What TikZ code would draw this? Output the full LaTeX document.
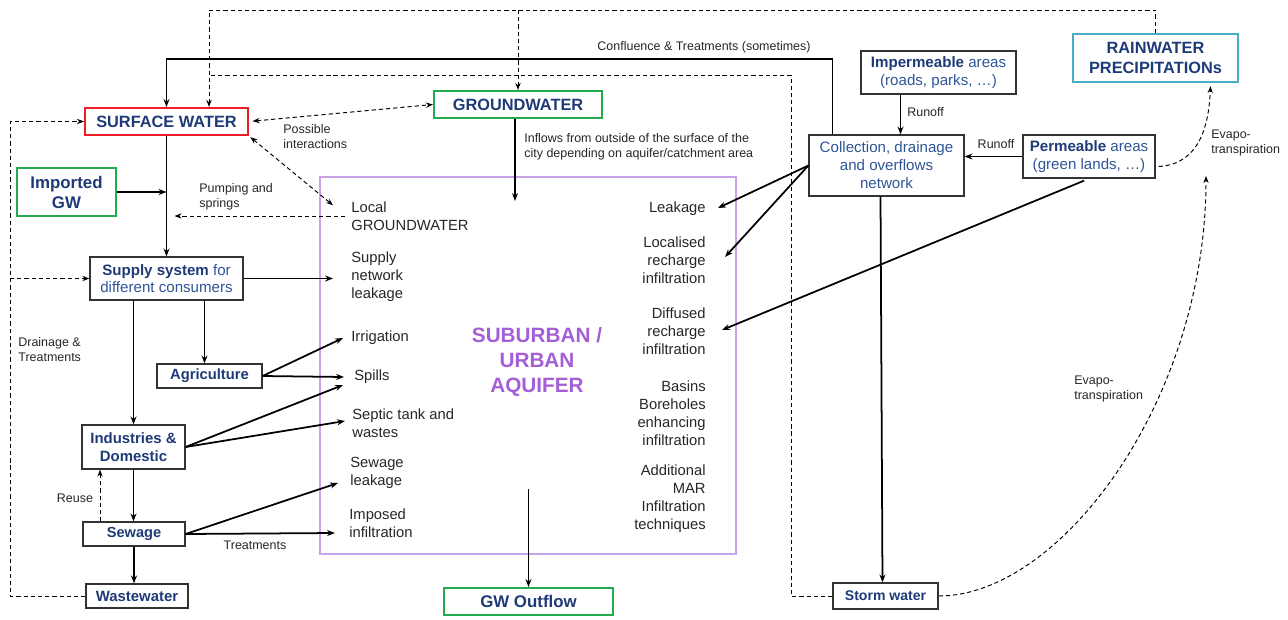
\documentclass[tikz,border=0pt]{standalone}
\usepackage{fontspec}
\setmainfont{Liberation Sans}
\usetikzlibrary{
  arrows.meta
  , calc
  , positioning
}
\definecolor{navy}{HTML}{1F3A78}
\definecolor{midblue}{HTML}{2F5597}
\definecolor{aqpurple}{HTML}{A45ED6}
\definecolor{aqline}{HTML}{C9A3E8}
\definecolor{swred}{HTML}{EE1C25}
\definecolor{gwgreen}{HTML}{22AA4E}
\definecolor{rainteal}{HTML}{4BACC6}
\newcommand{\fs}[2]{\fontsize{#1}{#2}\selectfont}

\begin{document}
\begin{tikzpicture}[x=0.02cm, y=-0.02cm,
    box/.style={draw=black!80, line width=0.7pt, text=navy, align=center, inner sep=0pt},
    title/.style={font=\bfseries\fs{9.3}{11.4}},
    arr/.style={-{Stealth[length=4.5pt,width=3.4pt]}, line width=1pt},
    dline/.style={line width=0.55pt, dash pattern=on 2.4pt off 1.7pt},
    darr/.style={dline, -{Stealth[length=4pt,width=3pt]}},
    lbl/.style={inner sep=0pt, font=\fs{8.4}{10.2}, text=black!85},
    note/.style={inner sep=0pt, font=\fs{7.1}{8.5}, text=black!85, align=left}]
  \useasboundingbox (0,0) rectangle (1288,619);

  % aquifer box
  \draw [aqline, line width=1pt] (320,177) rectangle (736,554);
  \node [text=aqpurple, align=center, font=\bfseries\fs{11.8}{14.5}] (aqtitle) at (537,362)
    {SUBURBAN /\\URBAN\\AQUIFER};

  % boxes
  \node [box, title, draw=swred, line width=1.2pt,
    minimum width=3.26cm, minimum height=0.54cm] (sw) at (166.5,121.5) {SURFACE WATER};
  \node [box, title, draw=gwgreen, line width=1.2pt,
    minimum width=3.36cm, minimum height=0.54cm] (gw) at (518,104.5) {GROUNDWATER};
  \node [box, draw=gwgreen, line width=1.2pt, font=\bfseries\fs{9.6}{11.4},
    minimum width=1.98cm, minimum height=0.96cm] (imp) at (66.5,192) {Imported\\GW};
  \node [box, text=midblue, font=\fs{8.6}{9.7},
    minimum width=3.06cm, minimum height=0.86cm] (sup) at (166.5,278.5)
    {\textcolor{navy}{\bfseries Supply system} for\\different consumers};
  \node [box, font=\bfseries\fs{8.4}{10},
    minimum width=2.1cm, minimum height=0.48cm] (agri) at (209.5,376) {Agriculture};
  \node [box, font=\bfseries\fs{8.5}{10.2},
    minimum width=2.06cm, minimum height=0.88cm] (ind) at (133.5,447) {Industries \&\\Domestic};
  \node [box, font=\bfseries\fs{8.3}{10},
    minimum width=2.04cm, minimum height=0.48cm] (sew) at (134,534) {Sewage};
  \node [box, font=\bfseries\fs{8.5}{10},
    minimum width=2.04cm, minimum height=0.48cm] (waste) at (137,596) {Wastewater};
  \node [box, draw=gwgreen, line width=1.2pt, font=\bfseries\fs{9.6}{11},
    minimum width=3.38cm, minimum height=0.54cm] (gwout) at (528.5,601.5) {GW Outflow};
  \node [box, font=\bfseries\fs{8}{10},
    minimum width=2.1cm, minimum height=0.52cm] (storm) at (885.5,596) {Storm water};
  \node [box, text=midblue, font=\fs{8.6}{10.2},
    minimum width=3.1cm, minimum height=1.22cm] (coll) at (886.5,165.5)
    {Collection, drainage\\and overflows\\network};
  \node [box, text=midblue, font=\fs{8.6}{10.2},
    minimum width=3.1cm, minimum height=0.86cm] (imper) at (938.5,72.5)
    {\textcolor{navy}{\bfseries Impermeable} areas\\(roads, parks, \ldots)};
  \node [box, text=midblue, font=\fs{8.6}{10.2},
    minimum width=2.64cm, minimum height=0.86cm] (perm) at (1089,156.5)
    {\textcolor{navy}{\bfseries Permeable} areas\\(green lands, \ldots)};
  \node [box, title, draw=rainteal, line width=1.2pt,
    minimum width=3.3cm, minimum height=0.96cm] (rain) at (1155.5,58) {RAINWATER\\PRECIPITATIONs};

  % texts inside the aquifer
  \node [lbl, anchor=west, align=left] (locgw) at (351,216) {Local\\GROUNDWATER};
  \node [lbl, anchor=west, align=left] (lsup) at (351,277) {Supply\\network\\leakage};
  \node [lbl, anchor=west] (irrig) at (351,338) {Irrigation};
  \node [lbl, anchor=west] (spills) at (354,377) {Spills};
  \node [lbl, anchor=west, align=left] (septic) at (352,423) {Septic tank and\\wastes};
  \node [lbl, anchor=west, align=left] (sewleak) at (350,473) {Sewage\\leakage};
  \node [lbl, anchor=west, align=left] (imposed) at (349,523) {Imposed\\infiltration};
  \node [lbl, anchor=east] (leak) at (706,209) {Leakage};
  \node [lbl, anchor=east, align=right] (local) at (706,260) {Localised\\recharge\\infiltration};
  \node [lbl, anchor=east, align=right] (diff) at (706,331) {Diffused\\recharge\\infiltration};
  \node [lbl, anchor=east, align=right] (basins) at (706,413) {Basins\\Boreholes\\enhancing\\infiltration};
  \node [lbl, anchor=east, align=right] (addit) at (706,499) {Additional\\MAR\\Infiltration\\techniques};

  % small labels
  \node [note] (conf) at (704,47) {Confluence \& Treatments (sometimes)};
  \node [note, anchor=west] (possint) at (283,137) {Possible\\interactions};
  \node [note, anchor=west] (pump) at (199,197) {Pumping and\\springs};
  \node [note, anchor=west] (drain) at (18,350) {Drainage \&\\Treatments};
  \node [note] (reuse) at (75,498) {Reuse};
  \node [note] (treat) at (255,545) {Treatments};
  \node [note, anchor=west] (inflow) at (524,147)
    {Inflows from outside of the surface of the\\city depending on aquifer/catchment area};
  \node [note, anchor=west] (runoffa) at (907,112) {Runoff};
  \node [note] (runoffb) at (996,144) {Runoff};
  \node [note, anchor=west] (evapa) at (1211,143) {Evapo-\\transpiration};
  \node [note, anchor=west] (evapb) at (1074,389) {Evapo-\\transpiration};

  \coordinate (toprow) at (0,10);
  \coordinate (midrow) at (791,75);
  \coordinate (conrow) at (0,59);
  \coordinate (leftcol) at (10,0);
  \coordinate (swin) at ($(sw.north)+(42.5,0)$);
  \coordinate (evap) at (1206,176);

  % dashed loops
  \draw [darr] (rain.north) |- (toprow -| swin) -- (swin);
  \draw [darr] (toprow -| gw.north) -- (gw.north);
  \draw [dline] (storm.west) -| (midrow) -- (midrow -| swin);
  \draw [darr] (waste.west) -| (leftcol |- sw.west) -- (sw.west);
  \draw [darr] (leftcol |- sup.west) -- (sup.west);
  \draw [dline, {Stealth[length=4pt,width=3pt]}-{Stealth[length=4pt,width=3pt]},
    shorten <=2pt] (sw.east) -- (gw.west);
  \draw [dline, {Stealth[length=4pt,width=3pt]}-{Stealth[length=4pt,width=3pt]},
    shorten <=1pt] (sw.south east) -- ($(locgw.north west)+(-18,4)$);
  \draw [darr] ($(locgw.west)+(-6,0)$) coordinate (pp) -- ($(sw.south |- pp)+(8,0)$);
  \draw [darr] ($(sew.north)+(-34,0)$) coordinate (r0) -- (r0 |- ind.south);

  % confluence line
  \draw [arr] ($(coll.north west)+(24,0)$) coordinate (c1) -- (c1 |- conrow) -| (sw.north);

  % supply side
  \draw [arr] (sw.south) -- (sup.north);
  \draw [arr] (imp.east) -- (imp.east -| sw.south);
  \draw [arr] (sup.east) -- ($(lsup.west)+(-18,1.5)$);
  \draw [arr] (ind.north |- sup.south) -- (ind.north);
  \coordinate (a1) at ($(agri.north)+(-5,0)$);
  \draw [arr] (a1 |- sup.south) -- (a1);
  \draw [arr] (agri.east) -- ($(irrig.west)+(-8,0)$);
  \draw [arr] (agri.east) -- ($(spills.west)+(-10,0)$);
  \draw [arr] (ind.east) -- ($(spills.west)+(-11,8)$);
  \draw [arr] (ind.east) -- ($(septic.west)+(-7,-2)$);
  \draw [arr] (ind.south) -- (ind.south |- sew.north);
  \draw [arr] (sew.south) -- (sew.south |- waste.north);
  \draw [arr] (sew.east) -- ($(sewleak.west)+(-12,10)$);
  \draw [arr] (sew.east) -- ($(imposed.west)+(-14,10)$);

  % aquifer in and out
  \draw [arr] ($(gw.south)+(-3,0)$) coordinate (g1) -- ($(g1)+(0,82)$);
  \draw [arr] ($(gwout.north)+(0,-98)$) -- (gwout.north);

  % urban drainage
  \draw [arr] (coll.west) -- ($(leak.east)+(12,-1)$);
  \draw [arr] (coll.west) -- ($(local.east)+(19,-3)$);
  \draw [arr, shorten <=3pt] (perm.south) -- ($(diff.east)+(16,-1)$);
  \draw [arr] ($(imper.south)+(-38,0)$) coordinate (r1) -- (r1 |- coll.north);
  \draw [arr] (perm.west) -- (perm.west -| coll.east);
  \draw [arr] ($(coll.south)+(-6,0)$) -- ($(storm.north)+(-3,0)$);

  % evapo-transpiration
  \draw [darr] ($(perm.east)+(3,10)$) .. controls +(35,-2) and +(-2,50) .. ($(rain.south)+(55,3)$);
  \draw [darr] (storm.east) .. controls +(122,0) and +(0,224) .. (evap);
\end{tikzpicture}
\end{document}
